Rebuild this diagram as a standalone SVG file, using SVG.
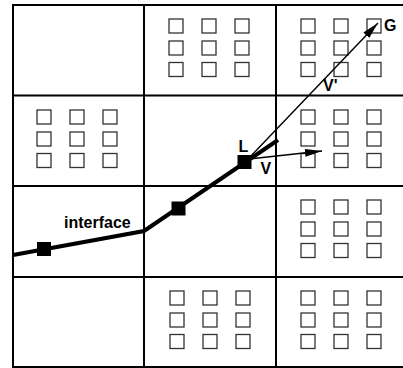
<svg xmlns="http://www.w3.org/2000/svg" width="403" height="368" viewBox="0 0 403 368">
<style>
.grid{stroke:#000;stroke-width:2;fill:none}
.sq{fill:#fff;stroke:#333;stroke-width:1.3}
.node{fill:#000}
.lbl{font-family:"Liberation Sans",Arial,sans-serif;font-weight:bold;font-size:16px;fill:#000}
.iface{stroke:#000;stroke-width:4;fill:none;stroke-linejoin:miter}
.vec{stroke:#000;stroke-width:1.4;fill:none}
</style>
<defs>
<marker id="ah" markerUnits="userSpaceOnUse" markerWidth="18" markerHeight="8" refX="17" refY="4" orient="auto">
<path d="M0,0 L17,4 L0,8 z" fill="#000"/>
</marker>
<g id="sq9">
<rect class="sq" x="0" y="0" width="14" height="14"/>
<rect class="sq" x="33" y="0" width="14" height="14"/>
<rect class="sq" x="66" y="0" width="14" height="14"/>
<rect class="sq" x="0" y="22" width="14" height="14"/>
<rect class="sq" x="33" y="22" width="14" height="14"/>
<rect class="sq" x="66" y="22" width="14" height="14"/>
<rect class="sq" x="0" y="43.5" width="14" height="14"/>
<rect class="sq" x="33" y="43.5" width="14" height="14"/>
<rect class="sq" x="66" y="43.5" width="14" height="14"/>
</g>
</defs>
<rect width="403" height="368" fill="#fff"/>
<g id="grid" class="grid">
<line x1="13" y1="5" x2="13" y2="368"/>
<line x1="144" y1="5" x2="144" y2="368"/>
<line x1="276" y1="5" x2="276" y2="368"/>
<line x1="12" y1="5" x2="403" y2="5"/>
<line x1="12" y1="95.5" x2="403" y2="95.5"/>
<line x1="12" y1="186" x2="403" y2="186"/>
<line x1="12" y1="277" x2="403" y2="277"/>
<line x1="12" y1="367" x2="403" y2="367"/>
</g>
<g id="cell-r1c2"><use href="#sq9" x="169" y="19"/></g>
<g id="cell-r1c3"><use href="#sq9" x="301" y="19"/></g>
<g id="cell-r2c1"><use href="#sq9" x="37" y="110"/></g>
<g id="cell-r2c3"><use href="#sq9" x="301" y="110"/></g>
<g id="cell-r3c3"><use href="#sq9" x="301" y="200"/></g>
<g id="cell-r4c2"><use href="#sq9" x="170" y="291"/></g>
<g id="cell-r4c3"><use href="#sq9" x="301" y="291"/></g>
<g id="connectors">
<polyline class="iface" points="13,255 144,231 278,140"/>
<line class="vec" x1="249" y1="158" x2="378" y2="23" marker-end="url(#ah)"/>
<line class="vec" x1="249" y1="159" x2="322" y2="151" marker-end="url(#ah)"/>
</g>
<g id="node1"><rect class="node" x="37" y="242" width="14" height="14"/></g>
<g id="node2"><rect class="node" x="171.5" y="201.5" width="14" height="14"/></g>
<g id="nodeL"><rect class="node" x="237.5" y="155" width="14" height="14"/><text class="lbl" x="238.5" y="152">L</text></g>
<g id="labels">
<text class="lbl" x="64" y="228">interface</text>
<text class="lbl" x="384" y="31">G</text>
<text class="lbl" x="323" y="91">V'</text>
<text class="lbl" x="260.5" y="174">V</text>
</g>
</svg>
